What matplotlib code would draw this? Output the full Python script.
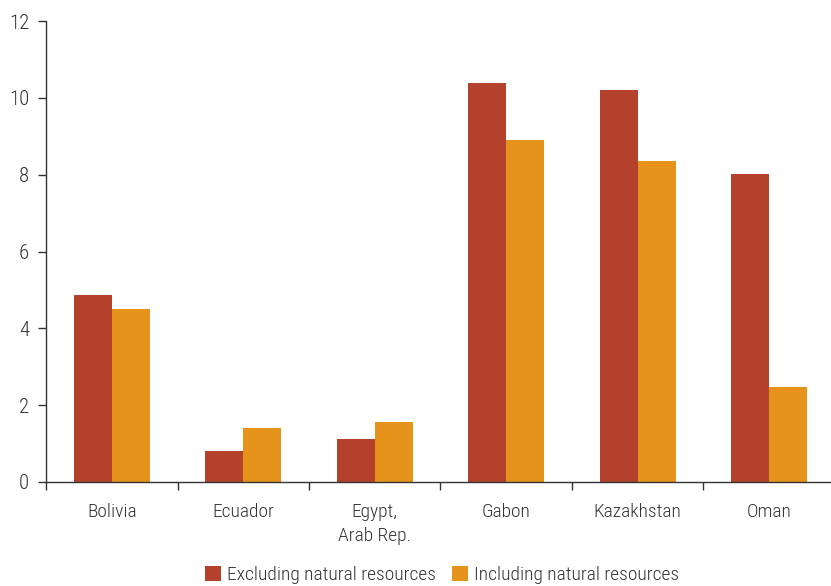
import numpy as np
import matplotlib
matplotlib.use('Agg')
import matplotlib.pyplot as plt

countries = ['Bolivia', 'Ecuador', 'Egypt,\nArab Rep.', 'Gabon', 'Kazakhstan', 'Oman']
excluding = [4.87, 0.81, 1.12, 10.39, 10.2, 8.02]
including = [4.5, 1.41, 1.56, 8.9, 8.36, 2.48]

plt.rcParams['font.family'] = ['Roboto Condensed', 'DejaVu Sans']
plt.rcParams['font.weight'] = 300
plt.rcParams['font.size'] = 14

red = '#b3412c'
orange = '#e5931b'
dark = '#333333'

fig = plt.figure(figsize=(8.31, 5.86), dpi=100)
ax = fig.add_axes([0.0554, 0.1775, 0.9446, 0.7865])

x = np.arange(len(countries))
w = 0.29
ax.bar(x - w / 2, excluding, w, color=red, label='Excluding natural resources')
ax.bar(x + w / 2, including, w, color=orange, label='Including natural resources')

ax.set_ylim(0, 12)
ax.set_yticks(range(0, 13, 2))
ax.set_xlim(-0.5, 5.47)
ax.set_xticks(x)
ax.set_xticklabels(countries, color=dark, fontsize=14, linespacing=1.45)
ax.set_xticks(np.arange(-0.5, 5.0, 1.0), minor=True)
ax.tick_params(axis='x', which='major', length=0, pad=15)
ax.tick_params(axis='x', which='minor', length=6, width=1, color=dark, direction='out')
ax.tick_params(axis='y', length=6, width=1, color=dark, labelcolor=dark, labelsize=15, pad=6)

for s in ['top', 'right']:
    ax.spines[s].set_visible(False)
for s in ['left', 'bottom']:
    ax.spines[s].set_color(dark)
    ax.spines[s].set_linewidth(1)

fig.legend(loc='lower center', bbox_to_anchor=(0.532, -0.027), ncol=2, frameon=False,
           handlelength=0.8, handleheight=0.8, handletextpad=0.3, columnspacing=0.85,
           fontsize=14, labelcolor=dark)

fig.savefig('out.png', dpi=100)
